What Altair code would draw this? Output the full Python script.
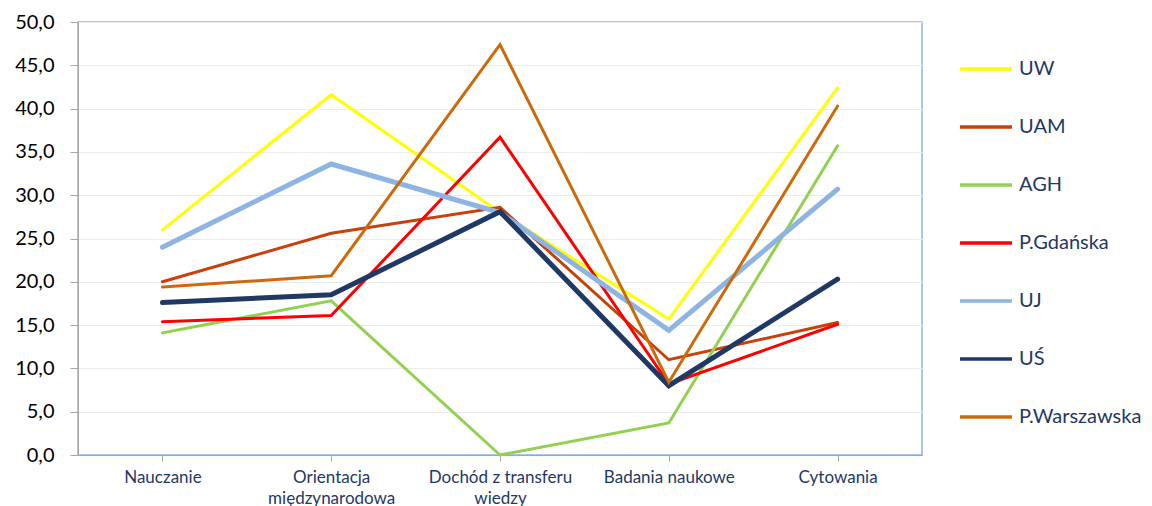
import altair as alt
import pandas as pd

categories = ["Nauczanie", "Orientacja|międzynarodowa", "Dochód z transferu|wiedzy",
              "Badania naukowe", "Cytowania"]
series = ["UW", "UAM", "AGH", "P.Gdańska", "UJ", "UŚ", "P.Warszawska"]
colors = ["#FFFF00", "#C8410A", "#92D050", "#FF0000", "#8DB4E2", "#1F3864", "#CC6A0A"]
widths = [3, 3, 3, 3, 5, 5, 3]

uw = [26.0, 41.6, 28.0, 15.7, 42.4]
uam = [20.0, 25.6, 28.6, 11.0, 15.3]
agh = [14.1, 17.8, 0.0, 3.7, 35.7]
pg = [15.4, 16.1, 36.7, 8.2, 15.1]
uj = [24.0, 33.6, 28.0, 14.4, 30.7]
us = [17.6, 18.5, 28.1, 8.0, 20.3]
pw = [19.4, 20.7, 47.4, 8.4, 40.3]

values = [uw, uam, agh, pg, uj, us, pw]
rows = []
for s, w, vals in zip(series, widths, values):
    for c, v in zip(categories, vals):
        rows.append({"uczelnia": s, "grubosc": w, "kategoria": c, "wartosc": v})
df = pd.DataFrame(rows)

legend = alt.Legend(
    title=None, orient="none", legendX=880, legendY=19,
    symbolType="stroke", symbolSize=2700, symbolStrokeWidth=3.5,
    labelFont="Lato", labelFontSize=20, labelColor="#1F3864",
    rowPadding=20, labelOffset=5, labelLimit=300,
)

chart = alt.Chart(df).mark_line(strokeCap="round", strokeJoin="miter").encode(
    x=alt.X("kategoria:N", sort=categories, title=None,
            scale=alt.Scale(paddingInner=0, paddingOuter=0),
            axis=alt.Axis(labelAngle=0, labelExpr="split(datum.label, '|')",
                          labelFont="Lato", labelFontSize=17, labelColor="#1F3864",
                          labelLineHeight=21, labelPadding=8, tickSize=6,
                          bandPosition=0, tickColor="#A6A6A6", domainColor="#A6A6A6",
                          grid=False, labelBaseline="top")),
    y=alt.Y("wartosc:Q", title=None,
            scale=alt.Scale(domain=[0, 50], nice=False),
            axis=alt.Axis(values=list(range(0, 51, 5)),
                          labelExpr="replace(format(datum.value, '.1f'), '.', ',')",
                          labelFont="Lato", labelFontSize=20, labelColor="#000000",
                          labelPadding=16, tickSize=8, tickColor="#A6A6A6",
                          domainColor="#A6A6A6", gridColor="#EBEBEB")),
    color=alt.Color("uczelnia:N", sort=series,
                    scale=alt.Scale(domain=series, range=colors), legend=legend),
    strokeWidth=alt.StrokeWidth("grubosc:Q", scale=None, legend=None),
    detail="uczelnia:N",
).properties(
    width=844, height=433,
    autosize=alt.AutoSizeParams(type="none"),
    padding={"left": 70, "top": 14, "right": 220, "bottom": 55},
).configure_view(stroke="#8EB4E3", strokeWidth=1.5)

chart.save("out.html", embed_options={"renderer": "svg", "actions": False})
